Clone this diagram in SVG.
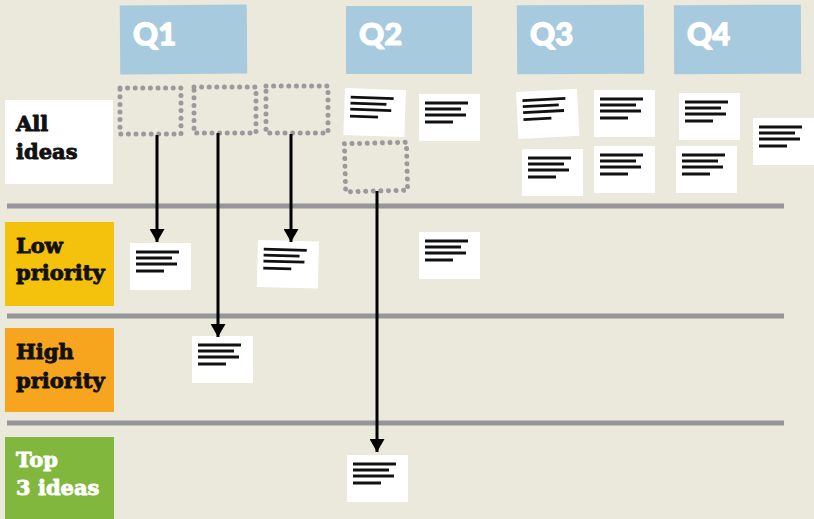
<svg xmlns="http://www.w3.org/2000/svg" xmlns:xlink="http://www.w3.org/1999/xlink" width="814" height="519" viewBox="0 0 814 519">
  <style>
    .quarter rect { fill: #a7cade; }
    .quarter text { font-family: Lato, "Open Sans", sans-serif; font-weight: 900; font-size: 31px; fill: #ffffff; stroke: #ffffff; stroke-width: 1.2; stroke-linejoin: round; }
    .row-label text { font-family: "DejaVu Serif", "Liberation Serif", serif; font-weight: bold; font-size: 21px; fill: #111111; stroke: #111111; stroke-width: 0.9; stroke-linejoin: round; }
    .row-label text.light { fill: #ffffff; stroke: #ffffff; }
    .divider { stroke: #96969a; stroke-width: 5; }
    .slot { fill: none; stroke: #9a9a9c; stroke-width: 5; stroke-linecap: round; stroke-dasharray: 0 7.6; }
    .link { fill: none; stroke: #000000; stroke-width: 3; marker-end: url(#arrow); }
  </style>
  <defs>
    <marker id="arrow" viewBox="0 0 10 10" refX="10" refY="5" markerUnits="userSpaceOnUse" markerWidth="13" markerHeight="15" preserveAspectRatio="none" orient="auto">
      <path d="M0,0 L10,5 L0,10 Z" fill="#000000"/>
    </marker>
    <!-- a sticky note with four lines of scribbled text -->
    <g id="note-card">
      <rect x="0" y="0" width="61" height="47" fill="#ffffff"/>
      <path d="M6,9 H49 M6,15 H42 M6,21 H47 M6,28 H34" stroke="#111111" stroke-width="2.8" fill="none"/>
    </g>
  </defs>

  <!-- board background -->
  <rect x="0" y="0" width="814" height="519" fill="#ebe8dc"/>

  <!-- lane dividers -->
  <g id="dividers">
    <line class="divider" x1="7" y1="206" x2="784" y2="206"/>
    <line class="divider" x1="7" y1="316" x2="784" y2="316"/>
    <line class="divider" x1="7" y1="423" x2="784" y2="423"/>
  </g>

  <!-- quarter headers -->
  <g id="q1" class="quarter" transform="rotate(-0.4 183 40)">
    <rect x="120" y="5" width="127" height="69"/>
    <text x="133" y="45">Q1</text>
  </g>
  <g id="q2" class="quarter">
    <rect x="346" y="6" width="126" height="68"/>
    <text x="359" y="45">Q2</text>
  </g>
  <g id="q3" class="quarter" transform="rotate(-0.3 580 40)">
    <rect x="517" y="5" width="127" height="69"/>
    <text x="530" y="45">Q3</text>
  </g>
  <g id="q4" class="quarter" transform="rotate(-0.3 737 40)">
    <rect x="674" y="5" width="127" height="69"/>
    <text x="687" y="45">Q4</text>
  </g>

  <!-- row labels -->
  <g id="all-ideas" class="row-label">
    <rect x="5" y="100" width="108" height="84" fill="#ffffff"/>
    <text x="16" y="131">All</text>
    <text x="16" y="159">ideas</text>
  </g>
  <g id="low-priority" class="row-label">
    <rect x="5" y="222" width="109" height="84" fill="#f4c20d"/>
    <text x="16" y="253">Low</text>
    <text x="16" y="280">priority</text>
  </g>
  <g id="high-priority" class="row-label">
    <rect x="5" y="328" width="109" height="84" fill="#f7a51f"/>
    <text x="16" y="359">High</text>
    <text x="16" y="388">priority</text>
  </g>
  <g id="top-3-ideas" class="row-label">
    <rect x="5" y="437" width="109" height="84" fill="#80b73c"/>
    <text class="light" x="16" y="467">Top</text>
    <text class="light" x="16" y="495">3 ideas</text>
  </g>

  <!-- empty slots left by moved notes -->
  <g id="slot-1"><rect class="slot" x="120" y="88" width="61" height="46"/></g>
  <g id="slot-2"><rect class="slot" x="194" y="87" width="62" height="46"/></g>
  <g id="slot-3"><rect class="slot" x="266" y="86" width="62" height="47"/></g>
  <g id="slot-4" transform="rotate(-1.5 375 167)"><rect class="slot" x="345" y="143" width="62" height="48"/></g>

  <!-- notes: all ideas lane -->
  <g id="note-q2-a" transform="translate(345 88) rotate(2)"><use xlink:href="#note-card"/></g>
  <g id="note-q2-b" transform="translate(419 94)"><use xlink:href="#note-card"/></g>
  <g id="note-q3-a" transform="translate(516 92) rotate(-3)"><use xlink:href="#note-card"/></g>
  <g id="note-q3-b" transform="translate(594 90)"><use xlink:href="#note-card"/></g>
  <g id="note-q3-c" transform="translate(522 149)"><use xlink:href="#note-card"/></g>
  <g id="note-q3-d" transform="translate(594 146)"><use xlink:href="#note-card"/></g>
  <g id="note-q4-a" transform="translate(679 93)"><use xlink:href="#note-card"/></g>
  <g id="note-q4-b" transform="translate(676 146)"><use xlink:href="#note-card"/></g>
  <g id="note-q4-c" transform="translate(753 118)"><use xlink:href="#note-card"/></g>

  <!-- notes: prioritised lanes -->
  <g id="note-low-1" transform="translate(130 243)"><use xlink:href="#note-card"/></g>
  <g id="note-low-2" transform="translate(258 240) rotate(1.5)"><use xlink:href="#note-card"/></g>
  <g id="note-low-3" transform="translate(419 232)"><use xlink:href="#note-card"/></g>
  <g id="note-high-1" transform="translate(192 336)"><use xlink:href="#note-card"/></g>
  <g id="note-top-1" transform="translate(347 455)"><use xlink:href="#note-card"/></g>

  <!-- moves from the ideas lane into the priority lanes -->
  <g id="connectors">
    <line class="link" x1="157" y1="135" x2="157" y2="242"/>
    <line class="link" x1="218" y1="133" x2="218" y2="337"/>
    <line class="link" x1="291" y1="134" x2="291" y2="242"/>
    <line class="link" x1="377" y1="191" x2="377" y2="452"/>
  </g>
</svg>
